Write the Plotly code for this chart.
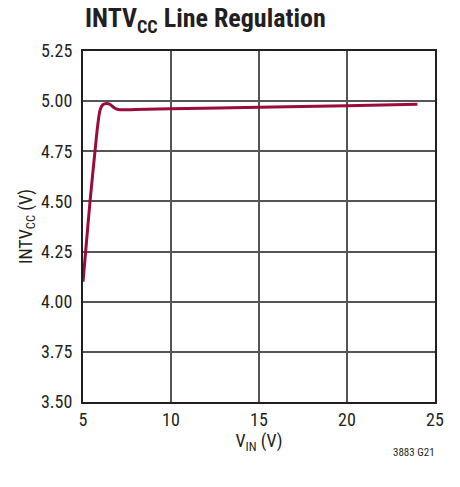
import plotly.graph_objects as go

vin = [5.0, 5.15, 5.4, 5.68, 5.85, 5.97, 6.12, 6.35, 6.55, 6.75, 7.0, 8.0, 10, 15, 20, 24]
intvcc = [4.10, 4.25, 4.50, 4.75, 4.89, 4.955, 4.982, 4.988, 4.983, 4.968, 4.958, 4.958, 4.962, 4.970, 4.977, 4.985]

x_ticks = [5, 10, 15, 20, 25]
y_ticks = [3.50, 3.75, 4.00, 4.25, 4.50, 4.75, 5.00, 5.25]

FONT = "Roboto Condensed, Liberation Sans Narrow, Arial Narrow, Roboto, sans-serif"
INK = "#231f20"

fig = go.Figure()
fig.add_trace(go.Scatter(
    x=vin, y=intvcc, mode="lines",
    line=dict(color="#9b0b3b", width=3, shape="spline", smoothing=0.8),
    showlegend=False, hoverinfo="skip"))

fig.update_layout(
    width=460, height=487,
    margin=dict(l=83, r=25, t=51, b=85),
    paper_bgcolor="white", plot_bgcolor="white",
    font=dict(family=FONT, size=18, color=INK),
    title=dict(text="<b>INTV<sub>CC</sub> Line Regulation</b>",
               x=0.185, xref="container", xanchor="left",
               y=0.9815, yref="container", yanchor="top",
               font=dict(family=FONT, size=26, color=INK)),
    xaxis=dict(range=[5, 25], tickvals=x_ticks, ticktext=[str(v) for v in x_ticks],
               showgrid=True, gridcolor="#555555", gridwidth=1.5,
               showline=True, linecolor=INK, linewidth=2, mirror=True,
               zeroline=False, ticks="", ticklen=0,
               title=dict(text="V<sub>IN</sub> (V)", standoff=6, font=dict(size=18))),
    yaxis=dict(range=[3.5, 5.25], tickvals=y_ticks, ticktext=[f"{v:.2f}" for v in y_ticks],
               showgrid=True, gridcolor="#555555", gridwidth=1.5,
               showline=True, linecolor=INK, linewidth=2, mirror=True,
               zeroline=False, ticks="", ticklen=0, ticklabelstandoff=5,
               title=dict(text="INTV<sub>CC</sub> (V)", standoff=4, font=dict(size=18))),
)

fig.add_annotation(text="3883 G21", xref="paper", yref="paper", x=1, y=-0.1425,
                   xanchor="right", yanchor="middle", showarrow=False, xshift=2,
                   font=dict(family=FONT, size=11, color=INK))

fig.write_html("out.html", config={"displayModeBar": False},
               post_script="document.body.style.margin='0';")
